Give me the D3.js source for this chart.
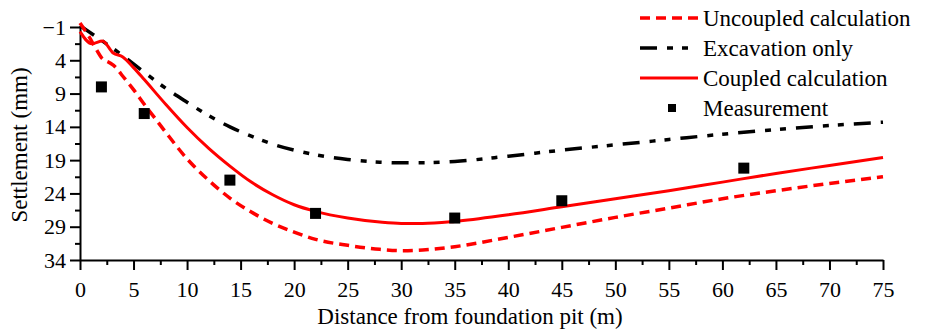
<!DOCTYPE html>
<html>
<head>
<meta charset="utf-8">
<script src="https://cdn.jsdelivr.net/npm/d3@7"></script>
<style>
  body { margin: 0; background: #fff; }
  svg { display: block; font-family: 'Liberation Serif', 'Times New Roman', serif; }
  .axis text { font-size: 22px; fill: #000; font-family: 'Liberation Serif', serif; }
  .axis path, .axis line { stroke: #000; stroke-width: 2; }
</style>
</head>
<body>
<div id="chart"></div>
<script>
// settlement data (mm) vs distance from pit (m)
const uncoupledX = [0, 0.9, 1.5, 2, 2.8, 3.3, 4, 5, 6, 7, 8, 10, 12, 14, 16, 18, 20, 22, 25, 28, 30, 32, 35, 40, 45, 50, 55, 60, 65, 70, 75]
const uncoupledY = [-1.6, 0.6, 2.3, 3.6, 4.4, 5.0, 6.4, 8.4, 10.6, 12.7, 14.8, 18.8, 22.0, 24.7, 26.8, 28.5, 29.8, 30.9, 31.8, 32.4, 32.6, 32.5, 32.0, 30.6, 29.1, 27.6, 26.2, 24.8, 23.6, 22.5, 21.5]

const excavationX = [0, 2, 4, 6, 8, 10, 12, 14, 16, 18, 20, 22, 25, 28, 30, 32, 35, 40, 45, 50, 55, 60, 65, 70, 75]
const excavationY = [-1.2, 1.0, 3.3, 5.8, 8.2, 10.3, 12.3, 14.0, 15.4, 16.6, 17.5, 18.2, 18.9, 19.3, 19.4, 19.4, 19.2, 18.4, 17.5, 16.7, 15.9, 15.1, 14.4, 13.8, 13.3]

const coupledX = [0, 1.1, 2.1, 3.1, 4, 5, 6, 8, 10, 12, 14, 16, 18, 20, 22, 25, 28, 30, 32, 35, 40, 45, 50, 55, 60, 65, 70, 75]
const coupledY = [-0.3, 1.5, 1.1, 2.9, 3.5, 5.1, 6.9, 10.6, 14.1, 17.2, 19.9, 22.3, 24.2, 25.7, 26.7, 27.7, 28.3, 28.5, 28.5, 28.2, 27.2, 26.0, 24.8, 23.6, 22.3, 21.0, 19.8, 18.6]

const measuredX = [2, 6, 14, 22, 35, 45, 62]
const measuredY = [8, 12, 22, 27, 27.7, 25.1, 20.2]

const xTicks = d3.range(0, 76, 5)
const yTicks = d3.range(-1, 35, 5)

const legendLabels = ['Uncoupled calculation', 'Excavation only', 'Coupled calculation', 'Measurement']

const width = 930
const height = 333
const margin = { top: 27, right: 47, bottom: 73, left: 80 }

const svg = d3
  .select('#chart')
  .append('svg')
  .attr('width', width)
  .attr('height', height)

const x = d3.scaleLinear().domain([0, 75]).range([margin.left, width - margin.right])
const y = d3.scaleLinear().domain([-1, 34]).range([margin.top, height - margin.bottom])

// minor ticks first so the major ones sit on top
svg
  .append('g')
  .attr('class', 'axis')
  .attr('transform', `translate(0,${y(34)})`)
  .call(d3.axisBottom(x).tickValues(d3.range(2.5, 75, 5)).tickSize(5).tickFormat(''))
  .call(g => g.select('.domain').remove())

svg
  .append('g')
  .attr('class', 'axis')
  .attr('transform', `translate(${x(0)},0)`)
  .call(d3.axisLeft(y).tickValues(d3.range(1.5, 34, 5)).tickSize(5).tickFormat(''))
  .call(g => g.select('.domain').remove())

svg
  .append('g')
  .attr('class', 'axis')
  .attr('transform', `translate(0,${y(34)})`)
  .call(d3.axisBottom(x).tickValues(xTicks).tickSize(10).tickSizeOuter(0).tickPadding(11))

svg
  .append('g')
  .attr('class', 'axis')
  .attr('transform', `translate(${x(0)},0)`)
  .call(d3.axisLeft(y).tickValues(yTicks).tickSize(10).tickSizeOuter(0).tickPadding(4))

svg
  .append('text')
  .attr('x', 470)
  .attr('y', 324)
  .attr('text-anchor', 'middle')
  .attr('font-size', 23)
  .text('Distance from foundation pit (m)')

svg
  .append('text')
  .attr('transform', 'translate(27,145) rotate(-90)')
  .attr('text-anchor', 'middle')
  .attr('font-size', 23)
  .text('Settlement (mm)')

const line = d3
  .line()
  .x(d => x(d[0]))
  .y(d => y(d[1]))
  .curve(d3.curveMonotoneX)

const series = [
  { xs: excavationX, ys: excavationY, color: '#000', w: 3.5, dash: '17,10,6,9,6,10' },
  { xs: uncoupledX, ys: uncoupledY, color: '#ff0000', w: 3.5, dash: '10,6' },
  { xs: coupledX, ys: coupledY, color: '#ff0000', w: 3, dash: null },
]

series.forEach(s => {
  svg
    .append('path')
    .datum(d3.zip(s.xs, s.ys))
    .attr('fill', 'none')
    .attr('stroke', s.color)
    .attr('stroke-width', s.w)
    .attr('stroke-dasharray', s.dash)
    .attr('d', line)
})

svg
  .append('g')
  .selectAll('rect')
  .data(d3.zip(measuredX, measuredY))
  .join('rect')
  .attr('x', d => x(d[0]) - 5.5)
  .attr('y', d => y(d[1]) - 5.5)
  .attr('width', 11)
  .attr('height', 11)
  .attr('fill', '#000')

// legend
const leg = svg.append('g').attr('font-size', 23)
const legStyles = [
  { color: '#ff0000', w: 3.5, dash: '10,6', x2: 698 },
  { color: '#000', w: 3.5, dash: '17,10,6,9,6,10', x2: 690 },
  { color: '#ff0000', w: 3, dash: null, x2: 698 },
]
legendLabels.forEach((label, i) => {
  const cy = 18 + i * 30
  if (i < 3) {
    leg
      .append('line')
      .attr('x1', 640)
      .attr('x2', legStyles[i].x2)
      .attr('y1', cy)
      .attr('y2', cy)
      .attr('stroke', legStyles[i].color)
      .attr('stroke-width', legStyles[i].w)
      .attr('stroke-dasharray', legStyles[i].dash)
  } else {
    leg
      .append('rect')
      .attr('x', 668)
      .attr('y', cy - 4)
      .attr('width', 8)
      .attr('height', 8)
      .attr('fill', '#000')
  }
  leg
    .append('text')
    .attr('x', 703)
    .attr('y', cy + 8)
    .text(label)
})
</script>
</body>
</html>
